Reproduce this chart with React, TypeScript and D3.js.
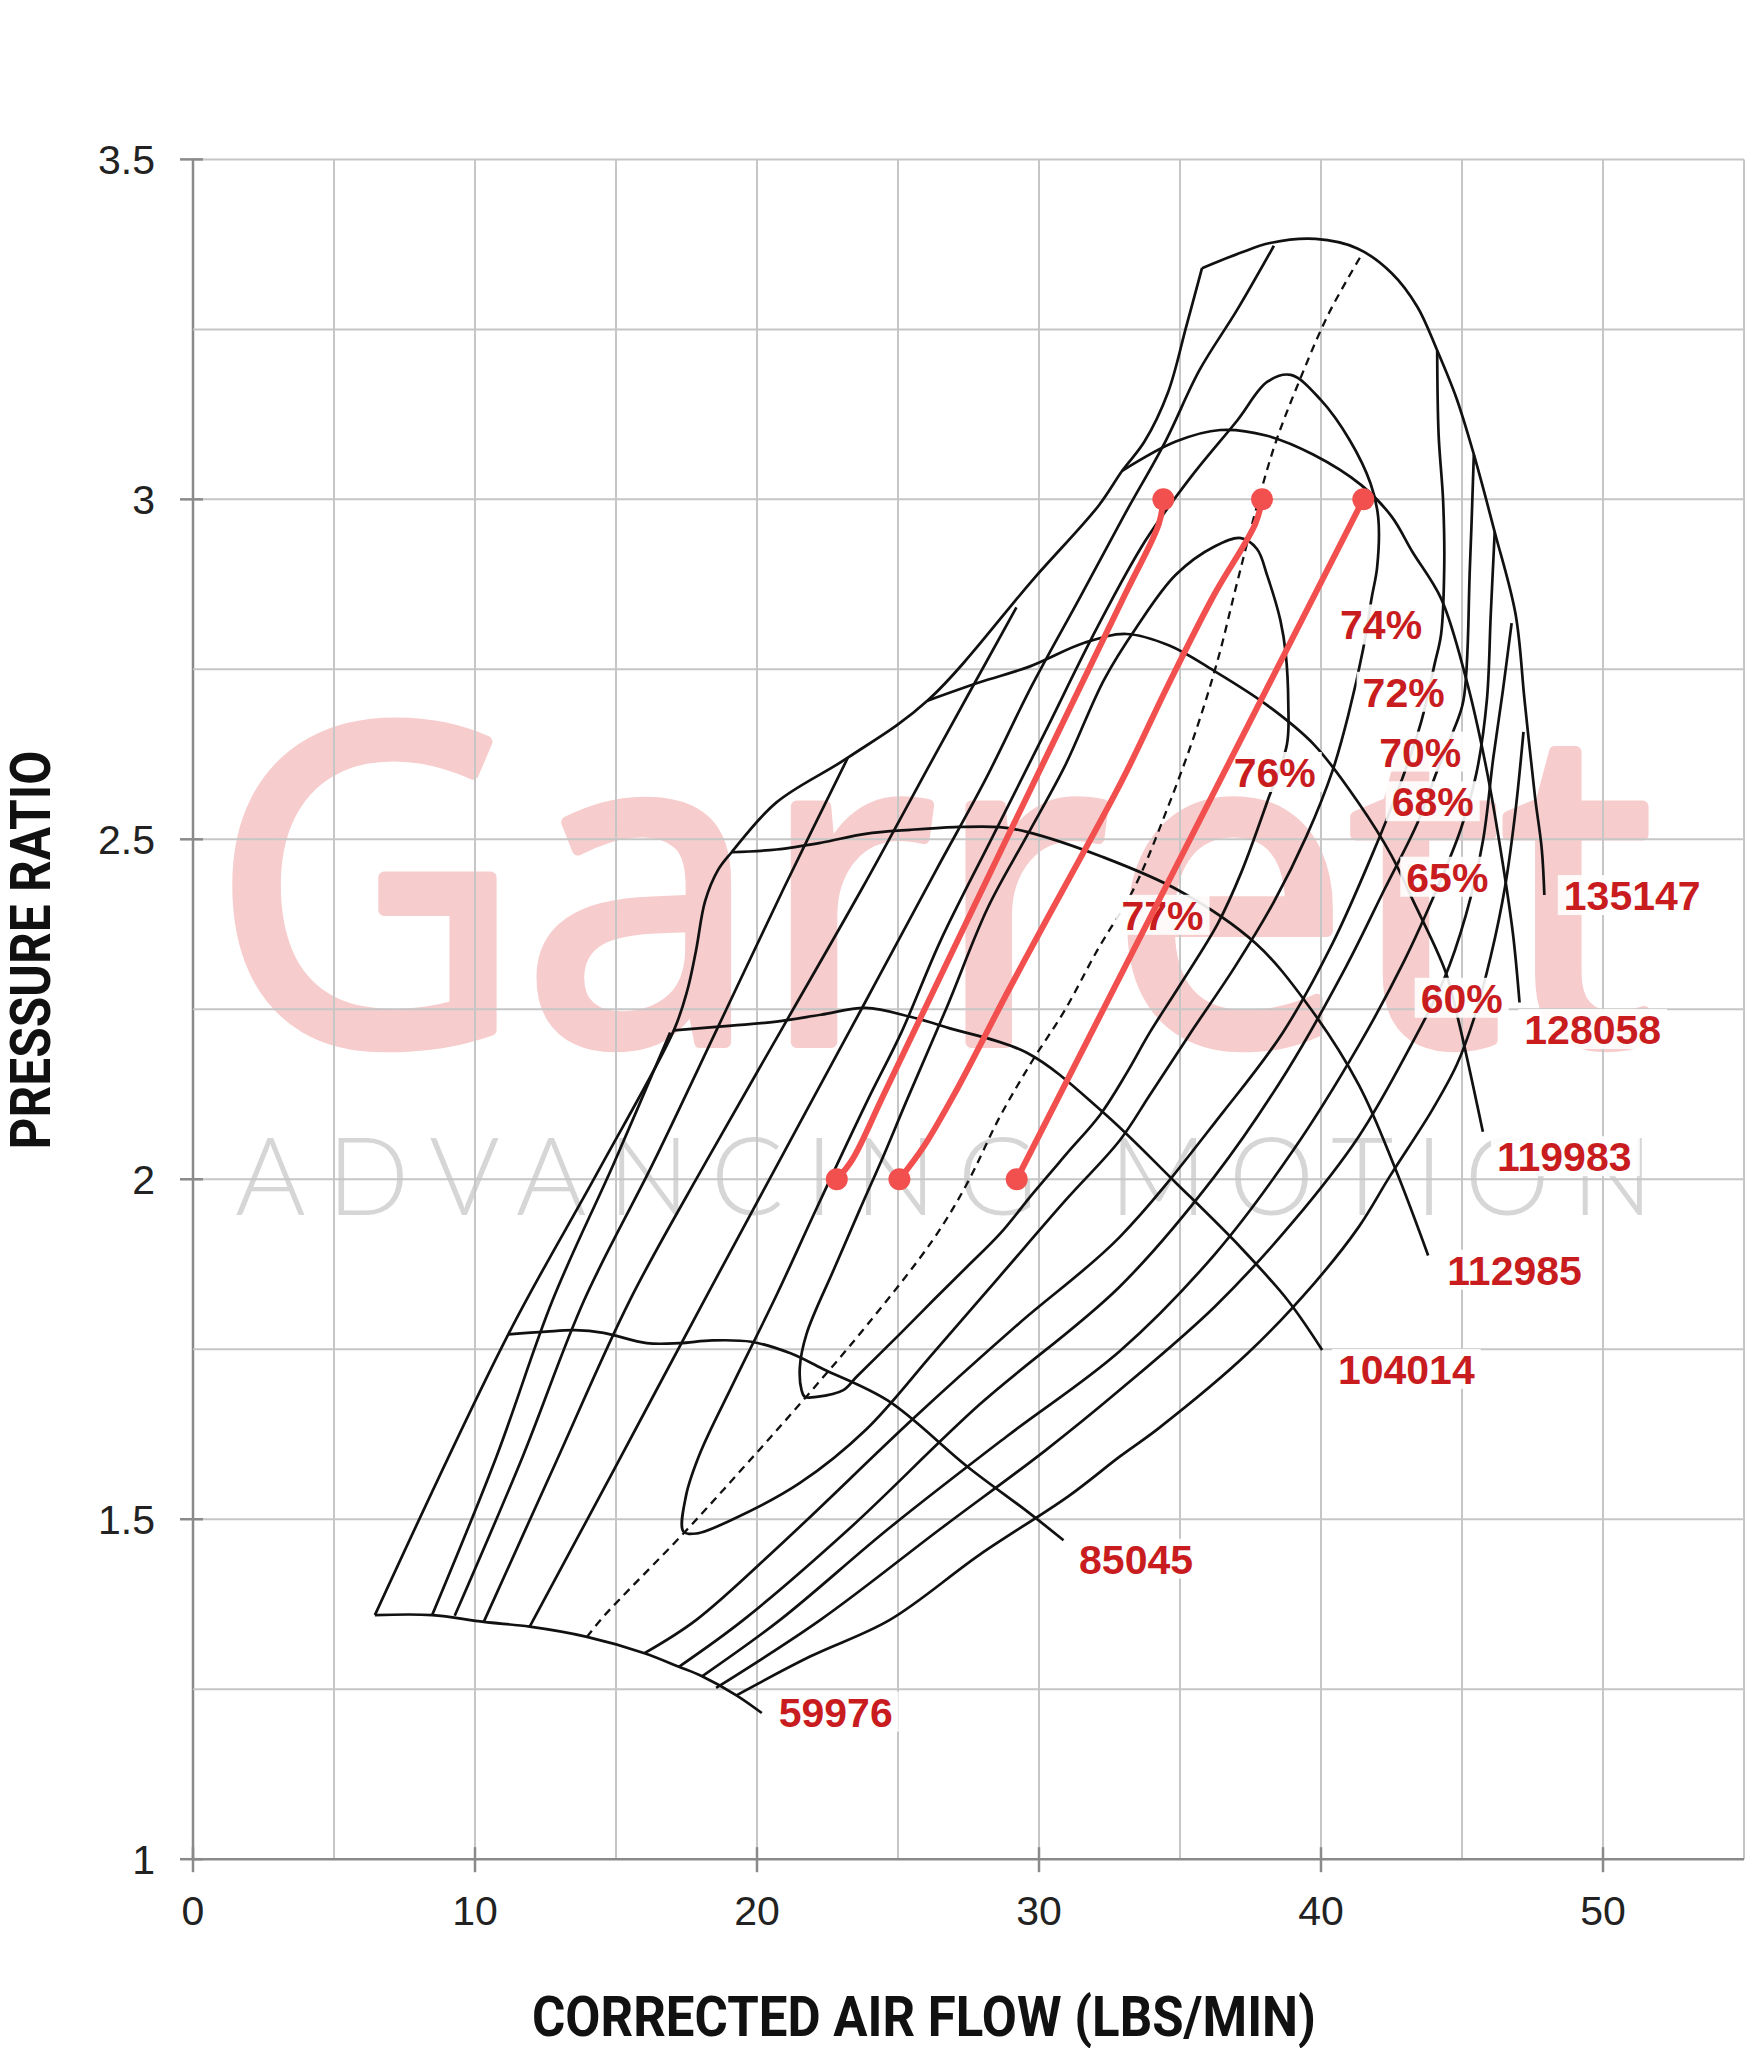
import React from 'react';
import * as d3 from 'd3';

type P = [number, number];

const xTicks = [0, 10, 20, 30, 40, 50];
const yTicks = [1, 1.5, 2, 2.5, 3, 3.5];
const xGrid = [0, 5, 10, 15, 20, 25, 30, 35, 40, 45, 50, 55];
const yGrid = [1, 1.25, 1.5, 1.75, 2, 2.25, 2.5, 2.75, 3, 3.25, 3.5];

const surgeLine: P[] = [[6.45,1.359],[11.18,1.772],[14.33,2.009],[17.05,2.219],[17.53,2.278],[17.84,2.337],[18.16,2.409],[18.62,2.455],[19.10,2.481],[20.68,2.554],[23.22,2.620],[26.05,2.704],[29.85,2.885],[32.12,2.991],[32.95,3.042],[33.74,3.085],[34.58,3.158],[35.22,3.254],[35.78,3.340]];

const speed59976: P[] = [[6.45,1.359],[8.48,1.359],[10.31,1.349],[11.94,1.342],[13.97,1.327],[16.01,1.303],[17.23,1.283],[18.05,1.269],[19.27,1.241],[20.17,1.215]];
const speed85045: P[] = [[11.18,1.772],[12.52,1.776],[13.54,1.778],[14.56,1.774],[16.09,1.759],[17.25,1.759],[18.41,1.763],[19.80,1.761],[21.19,1.744],[22.34,1.721],[24.66,1.674],[27.44,1.578],[29.66,1.509],[30.87,1.469]];
const speed104014: P[] = [[17.05,2.219],[19.10,2.226],[20.69,2.232],[22.27,2.242],[23.85,2.252],[25.44,2.239],[26.84,2.222],[29.57,2.186],[32.26,2.099],[34.85,1.995],[37.17,1.899],[38.84,1.821],[40.04,1.749]];
const speed112985: P[] = [[19.10,2.481],[20.69,2.485],[22.27,2.495],[23.85,2.508],[25.44,2.514],[27.02,2.518],[28.60,2.518],[29.57,2.511],[32.26,2.474],[34.99,2.424],[37.68,2.347],[39.49,2.259],[41.34,2.139],[42.64,2.015],[43.80,1.888]];
const speed119983: P[] = [[26.05,2.704],[27.90,2.731],[29.66,2.754],[31.61,2.789],[33.09,2.802],[34.62,2.785],[36.20,2.748],[38.10,2.697],[39.76,2.639],[41.34,2.553],[42.50,2.476],[43.24,2.412],[44.40,2.307],[44.86,2.236],[45.74,2.070]];
const speed128058: P[] = [[32.95,3.042],[34.85,3.085],[36.43,3.102],[38.05,3.094],[39.72,3.066],[41.43,3.021],[42.50,2.975],[43.24,2.923],[44.26,2.854],[45.14,2.737],[45.88,2.601],[46.44,2.466],[46.81,2.360],[47.04,2.260]];
const speed135147: P[] = [[35.78,3.340],[37.17,3.363],[38.19,3.377],[39.81,3.383],[41.29,3.369],[42.50,3.333],[43.42,3.283],[44.12,3.219],[44.81,3.148],[45.42,3.066],[46.16,2.952],[46.90,2.831],[47.22,2.704],[47.59,2.562],[47.83,2.485],[47.92,2.418]];

const eff76: P[] = [[21.70,1.680],[22.11,1.680],[23.06,1.690],[23.54,1.710],[25.08,1.773],[26.25,1.822],[27.44,1.871],[28.62,1.920],[29.80,1.980],[30.99,2.038],[32.17,2.095],[33.09,2.155],[33.93,2.216],[34.99,2.285],[36.34,2.376],[37.17,2.451],[38.10,2.556],[38.79,2.639],[38.84,2.699],[38.75,2.773],[38.56,2.822],[38.10,2.887],[37.73,2.927],[37.16,2.943],[36.24,2.931],[34.85,2.889],[33.46,2.812],[32.31,2.735],[30.92,2.608],[29.57,2.505],[28.18,2.399],[26.75,2.255],[25.31,2.116],[24.48,2.034],[23.64,1.955],[22.72,1.867],[21.76,1.773],[21.52,1.724],[21.58,1.690]];
const eff74: P[] = [[17.39,1.482],[17.85,1.479],[19.15,1.500],[21.51,1.553],[23.87,1.632],[26.24,1.744],[28.60,1.857],[30.96,1.970],[32.86,2.057],[33.93,2.124],[35.32,2.212],[36.94,2.312],[38.33,2.408],[39.49,2.505],[40.41,2.601],[40.97,2.683],[41.50,2.781],[41.80,2.856],[41.99,2.900],[42.03,2.973],[41.76,3.023],[41.02,3.087],[40.00,3.146],[38.93,3.183],[38.10,3.173],[37.03,3.116],[35.39,3.033],[33.77,2.939],[32.07,2.812],[30.22,2.658],[28.37,2.505],[26.51,2.351],[25.12,2.216],[23.92,2.116],[22.11,1.957],[20.72,1.832],[19.15,1.699],[17.99,1.598],[17.48,1.534]];
const eff72Left: P[] = [[11.94,1.342],[14.93,1.573],[18.13,1.822],[21.00,2.043],[23.83,2.260],[26.33,2.453],[28.09,2.587],[29.76,2.727],[31.43,2.854],[33.00,2.975],[34.48,3.085],[35.69,3.190],[37.03,3.279],[38.33,3.373]];
const eff72Right: P[] = [[16.01,1.303],[17.85,1.352],[20.95,1.467],[25.59,1.650],[29.29,1.788],[32.86,1.915],[36.57,2.101],[38.65,2.216],[40.41,2.347],[41.80,2.476],[42.73,2.572],[43.56,2.674],[44.03,2.758],[44.26,2.802],[44.37,2.900],[44.33,2.998],[44.17,3.096],[44.12,3.219]];
const eff70Left: P[] = [[10.31,1.349],[12.85,1.582],[15.49,1.822],[18.17,2.024],[20.95,2.226],[23.73,2.428],[26.51,2.639],[29.20,2.841]];
const eff70Right: P[] = [[17.23,1.283],[19.52,1.352],[23.27,1.486],[27.90,1.669],[32.86,1.842],[36.24,2.005],[38.79,2.159],[40.88,2.312],[42.27,2.428],[43.42,2.524],[44.12,2.601],[44.68,2.658],[45.05,2.704],[45.28,2.900],[45.42,3.066]];
const eff68Left: P[] = [[9.28,1.358],[11.69,1.592],[13.87,1.822],[16.32,2.024],[18.64,2.226],[20.95,2.428],[23.22,2.620]];
const eff68Right: P[] = [[18.05,1.269],[20.82,1.352],[24.66,1.486],[28.83,1.621],[32.86,1.747],[36.24,1.890],[39.02,2.043],[41.34,2.197],[42.96,2.322],[44.12,2.428],[44.95,2.514],[45.51,2.597],[45.88,2.704],[46.02,2.831],[46.16,2.952]];
const eff65Left: P[] = [[8.48,1.359],[10.76,1.592],[12.75,1.822],[14.93,2.024],[16.92,2.216]];
const eff65Right: P[] = [[18.55,1.252],[22.25,1.352],[26.51,1.486],[30.22,1.601],[32.86,1.690],[36.24,1.813],[39.02,1.938],[41.34,2.063],[43.19,2.197],[44.35,2.293],[45.14,2.389],[45.74,2.497],[46.11,2.620],[46.44,2.716],[46.76,2.818]];
const eff60Right: P[] = [[19.27,1.241],[21.88,1.298],[24.71,1.352],[27.90,1.448],[31.05,1.534],[32.86,1.592],[34.25,1.634],[37.40,1.744],[39.76,1.847],[41.34,1.930],[42.45,2.005],[43.93,2.101],[44.81,2.168],[45.42,2.236],[46.02,2.328],[46.53,2.431],[46.90,2.543],[47.18,2.658]];

const centerLine: P[] = [[13.97,1.327],[14.56,1.357],[17.39,1.479],[19.56,1.578],[21.70,1.678],[23.87,1.784],[26.24,1.911],[27.44,1.993],[28.60,2.091],[29.76,2.174],[30.92,2.249],[32.07,2.337],[33.37,2.428],[34.53,2.543],[35.55,2.658],[36.34,2.764],[36.98,2.870],[37.63,2.975],[38.37,3.081],[39.26,3.177],[40.27,3.273],[41.43,3.359]];

const operating1: P[] = [[22.83,2.0],[23.38,2.029],[24.52,2.127],[28.83,2.499],[33.05,2.860],[34.25,2.964],[34.41,3.0]];
const operating2: P[] = [[25.05,2.0],[25.91,2.048],[27.02,2.127],[28.92,2.278],[30.22,2.378],[32.95,2.587],[34.58,2.727],[36.20,2.859],[37.67,2.964],[37.91,3.0]];
const operating3: P[] = [[29.21,2.0],[41.5,3.0]];

const speedLabels = [
  { text: '59976', flow: 20.77, pr: 1.217 },
  { text: '85045', flow: 31.42, pr: 1.442 },
  { text: '104014', flow: 40.60, pr: 1.721 },
  { text: '112985', flow: 44.48, pr: 1.867 },
  { text: '119983', flow: 46.24, pr: 2.034 },
  { text: '128058', flow: 47.21, pr: 2.221 },
  { text: '135147', flow: 48.61, pr: 2.418 },
];
const effLabels = [
  { text: '74%', flow: 42.13, pr: 2.816 },
  { text: '72%', flow: 42.93, pr: 2.717 },
  { text: '70%', flow: 43.52, pr: 2.629 },
  { text: '68%', flow: 43.96, pr: 2.556 },
  { text: '65%', flow: 44.48, pr: 2.445 },
  { text: '60%', flow: 44.99, pr: 2.267 },
  { text: '76%', flow: 38.36, pr: 2.599 },
  { text: '77%', flow: 34.38, pr: 2.389 },
];

const openCurves: P[][] = [
  surgeLine, speed59976, speed85045, speed104014, speed112985, speed119983, speed128058, speed135147,
  eff72Left, eff72Right, eff70Left, eff70Right, eff68Left, eff68Right, eff65Left, eff65Right, eff60Right,
];
const closedCurves: P[][] = [eff76, eff74];
const operatingLines: P[][] = [operating1, operating2, operating3];

const RED_TEXT = '#c81c1f';
const RED_LINE = '#f24f4f';
const LABEL_FONT = "'Liberation Sans', Arial, Helvetica, sans-serif";
const WATERMARK = '#f7cccc';

export default function App() {
  const x = d3.scaleLinear().domain([0, 55]).range([193, 1744]);
  const y = d3.scaleLinear().domain([1, 3.5]).range([1859.2, 159.4]);
  const line = d3.line<P>().x(d => x(d[0])).y(d => y(d[1])).curve(d3.curveCatmullRom.alpha(0.5));
  const closed = d3.line<P>().x(d => x(d[0])).y(d => y(d[1])).curve(d3.curveCatmullRomClosed.alpha(0.5));
  const straight = d3.line<P>().x(d => x(d[0])).y(d => y(d[1]));

  const fs = 41;
  const textW = (t: string) => {
    let w = 0;
    for (const c of t) w += c === '%' ? 0.889 : 0.556;
    return w * fs;
  };

  return (
    <div style={{ position: 'absolute', left: 0, top: 0 }}>
      <svg width={1752} height={2048} style={{ display: 'block', background: '#fff' }}>
        <rect x={0} y={0} width={1752} height={2048} fill="#fff" />
        {/* watermark */}
        <text x={212} y={1042} fontSize={440} fontFamily="'Open Sans', Lato, sans-serif" fontWeight={400}
          fill={WATERMARK} stroke={WATERMARK} strokeWidth={12} strokeLinejoin="round"
          textLength={1442} lengthAdjust="spacingAndGlyphs">Garrett</text>
        <text x={235} y={1215} fontSize={108} fontFamily="Lato, 'Open Sans', sans-serif" fontWeight={300}
          fill="#d6d6d6" textLength={1418} lengthAdjust="spacing">ADVANCING MOTION</text>

        {/* grid */}
        {xGrid.map(v => (
          <line key={'gx' + v} x1={x(v)} x2={x(v)} y1={y(3.5)} y2={y(1)} stroke={v === 0 ? '#8a8a8a' : '#c6c6c6'} strokeWidth={v === 0 ? 2.5 : 2} />
        ))}
        {yGrid.map(v => (
          <line key={'gy' + v} x1={x(0)} x2={x(55)} y1={y(v)} y2={y(v)} stroke={v === 1 ? '#8a8a8a' : '#c6c6c6'} strokeWidth={v === 1 ? 2.5 : 2} />
        ))}
        {yTicks.map(v => (
          <line key={'ty' + v} x1={x(0) - 13} x2={x(0) + 10} y1={y(v)} y2={y(v)} stroke="#8a8a8a" strokeWidth={2.5} />
        ))}
        {xTicks.map(v => (
          <line key={'tx' + v} x1={x(v)} x2={x(v)} y1={y(1) - 12} y2={y(1) + 13} stroke="#8a8a8a" strokeWidth={2.5} />
        ))}

        {/* map curves */}
        {openCurves.map((c, i) => (
          <path key={'oc' + i} d={line(c) || ''} fill="none" stroke="#111" strokeWidth={2.7} strokeLinejoin="round" />
        ))}
        {closedCurves.map((c, i) => (
          <path key={'cc' + i} d={closed(c) || ''} fill="none" stroke="#111" strokeWidth={2.7} strokeLinejoin="round" />
        ))}
        <path d={line(centerLine) || ''} fill="none" stroke="#111" strokeWidth={2.3} strokeDasharray="8 6" />

        {/* labels */}
        {speedLabels.map(l => {
          const w = textW(l.text);
          return (
            <g key={l.text}>
              <rect x={x(l.flow) - 6} y={y(l.pr) - 20} width={w + 12} height={40} fill="#fff" fillOpacity={0.9} />
              <text x={x(l.flow)} y={y(l.pr) + 15} fontSize={fs} fontWeight={700} fontFamily={LABEL_FONT} fill={RED_TEXT}>{l.text}</text>
            </g>
          );
        })}
        {effLabels.map(l => {
          const w = textW(l.text);
          return (
            <g key={l.text}>
              <rect x={x(l.flow) - w / 2 - 6} y={y(l.pr) - 20} width={w + 12} height={40} fill="#fff" fillOpacity={0.9} />
              <text x={x(l.flow)} y={y(l.pr) + 15} fontSize={fs} fontWeight={700} fontFamily={LABEL_FONT} fill={RED_TEXT} textAnchor="middle">{l.text}</text>
            </g>
          );
        })}

        {/* operating lines */}
        {operatingLines.map((c, i) => (
          <g key={'op' + i}>
            <path d={(c.length > 2 ? line(c) : straight(c)) || ''} fill="none" stroke={RED_LINE} strokeWidth={6} strokeLinecap="round" strokeLinejoin="round" />
            <circle cx={x(c[0][0])} cy={y(c[0][1])} r={11} fill={RED_LINE} />
            <circle cx={x(c[c.length - 1][0])} cy={y(c[c.length - 1][1])} r={11} fill={RED_LINE} />
          </g>
        ))}

        {/* tick labels */}
        {yTicks.map(v => (
          <text key={'ly' + v} x={155} y={y(v) + 15} fontSize={41} fontFamily={LABEL_FONT} fill="#222" textAnchor="end">{String(v)}</text>
        ))}
        {xTicks.map(v => (
          <text key={'lx' + v} x={x(v)} y={1925} fontSize={41} fontFamily={LABEL_FONT} fill="#222" textAnchor="middle">{String(v)}</text>
        ))}

        {/* axis titles */}
        <text x={924} y={2036} fontSize={55} fontWeight={700} fontFamily="Roboto, 'Liberation Sans', sans-serif" fill="#111"
          textAnchor="middle" textLength={784} lengthAdjust="spacingAndGlyphs">CORRECTED AIR FLOW (LBS/MIN)</text>
        <text transform="translate(50,950) rotate(-90)" x={0} y={0} fontSize={55} fontWeight={700}
          fontFamily="Roboto, 'Liberation Sans', sans-serif" fill="#111" textAnchor="middle" textLength={399}
          lengthAdjust="spacingAndGlyphs">PRESSURE RATIO</text>
      </svg>
    </div>
  );
}
